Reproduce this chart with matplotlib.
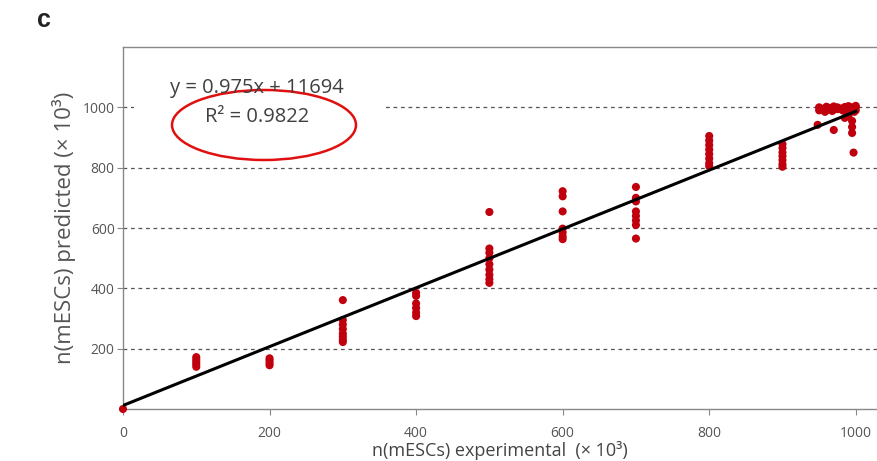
import matplotlib
matplotlib.use("Agg")
import matplotlib.pyplot as plt
from matplotlib.patches import Ellipse, Rectangle
import numpy as np

# ---- data (values in thousands of cells) ----
exp_0 = [0]
pred_0 = [0]
exp_100 = [100] * 5
pred_100 = [140, 148, 156, 164, 172]
exp_200 = [200] * 4
pred_200 = [145, 153, 161, 168]
exp_300 = [300] * 8
pred_300 = [361, 295, 280, 265, 250, 240, 230, 222]
exp_400 = [400] * 6
pred_400 = [385, 375, 350, 335, 320, 308]
exp_500 = [500] * 9
pred_500 = [653, 532, 518, 500, 480, 462, 445, 430, 418]
exp_600 = [600] * 7
pred_600 = [722, 705, 655, 598, 585, 572, 563]
exp_700 = [700] * 8
pred_700 = [736, 700, 688, 655, 640, 625, 610, 565]
exp_800 = [800] * 8
pred_800 = [905, 890, 875, 860, 845, 830, 815, 805]
exp_900 = [900] * 7
pred_900 = [878, 865, 850, 838, 825, 812, 803]
exp_1000 = [950, 955, 960, 965, 970, 975, 980, 985, 990, 995, 1000,
            950, 958, 962, 968, 975, 982, 988, 993, 998, 1000, 1000,
            948, 970, 990, 995, 995, 995, 997, 985]
pred_1000 = [1000, 995, 1002, 998, 1003, 1000, 996, 1001, 1004, 1000, 1005,
             990, 985, 992, 988, 994, 990, 982, 995, 985, 1000, 990,
             942, 925, 972, 955, 935, 915, 850, 965]

fit_slope = 0.975
fit_intercept = 11.694  # 11694 cells -> thousands
fit_x = [0, 1000]
equation_text = "y = 0.975x + 11694"
r2_text = "R² = 0.9822"

x_ticks = [0, 200, 400, 600, 800, 1000]
y_ticks = [200, 400, 600, 800, 1000]

exp_all = np.concatenate([exp_0, exp_100, exp_200, exp_300, exp_400, exp_500,
                          exp_600, exp_700, exp_800, exp_900, exp_1000])
pred_all = np.concatenate([pred_0, pred_100, pred_200, pred_300, pred_400, pred_500,
                           pred_600, pred_700, pred_800, pred_900, pred_1000])

plt.rcParams['font.family'] = ['Open Sans', 'DejaVu Sans']

fig = plt.figure(figsize=(8.77, 4.61), dpi=100)
ax = fig.add_axes([123 / 877, 52 / 461, (877 - 123) / 877, 362 / 461])
ax.set_xlim(0, 1029)
ax.set_ylim(0, 1200)

# grid
for yv in y_ticks:
    ax.axhline(yv, color='#555555', lw=0.9, ls=(0, (3, 3)), zorder=1)

# white box behind equation
ax.add_patch(Rectangle((0.015, 0.68), 0.33, 0.25, transform=ax.transAxes,
                       facecolor='white', edgecolor='none', zorder=2))

# scatter
ax.scatter(exp_all, pred_all, s=34, color='#c0000c', edgecolors='none',
           zorder=3, clip_on=False)

# fit line
fx = np.array(fit_x, dtype=float)
ax.plot(fx, fit_slope * fx + fit_intercept, color='black', lw=2.2, zorder=4)

# spines
for s in ['left', 'bottom', 'top']:
    ax.spines[s].set_color('#888888')
    ax.spines[s].set_linewidth(1.0)
ax.spines['right'].set_visible(False)

ax.set_xticks(x_ticks)
ax.set_xticklabels([str(v) for v in x_ticks])
ax.set_yticks(y_ticks)
ax.set_yticklabels([str(v) for v in y_ticks])
ax.tick_params(axis='both', colors='#888888', labelcolor='#555555', labelsize=10,
               length=4, width=0.8)
ax.tick_params(axis='x', pad=8)
ax.tick_params(axis='y', pad=2)

ax.set_xlabel("n(mESCs) experimental  (× 10³)", fontsize=13, color='#444444', labelpad=0)
ax.set_ylabel("n(mESCs) predicted (× 10³)", fontsize=16, color='#555555', labelpad=5)

# equation text
fig.text(257 / 877, 1 - 88 / 461, equation_text, ha='center', va='center',
         fontsize=14.5, color='#404040')
fig.text(257 / 877, 1 - 117 / 461, r2_text, ha='center', va='center',
         fontsize=14.5, color='#404040')

# red ellipse
ell = Ellipse((264 / 877, 1 - 125 / 461), 184 / 877, 70 / 461,
              transform=fig.transFigure, facecolor='none', edgecolor='#e01010', lw=1.8)
fig.add_artist(ell)

# panel label
fig.text(44 / 877, 1 - 20 / 461, "c", ha='center', va='center', fontsize=18,
         fontweight='bold', color='#222222', family=['Liberation Sans', 'DejaVu Sans'])

fig.savefig("out.png", dpi=100)
